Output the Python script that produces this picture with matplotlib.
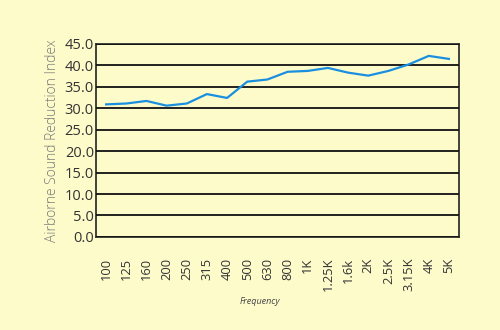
import matplotlib
matplotlib.use("Agg")
import matplotlib.pyplot as plt

categories = ["100", "125", "160", "200", "250", "315", "400", "500", "630", "800",
              "1K", "1.25K", "1.6k", "2K", "2.5K", "3.15K", "4K", "5K"]
values = [30.9, 31.1, 31.7, 30.6, 31.1, 33.3, 32.4, 36.2, 36.7, 38.5,
          38.7, 39.4, 38.3, 37.6, 38.7, 40.2, 42.2, 41.5]
y_ticks = [0, 5, 10, 15, 20, 25, 30, 35, 40, 45]

bg = "#FEFBCB"
fig = plt.figure(figsize=(5, 3.3), dpi=100, facecolor=bg)
ax = fig.add_axes([0.192, 0.282, 0.726, 0.585], facecolor=bg)

x = list(range(len(categories)))
ax.plot(x, values, color="#1A8FE0", lw=1.6, zorder=3)
ax.set_xlim(-0.5, len(categories) - 0.5)
ax.set_ylim(0, 45)
ax.set_yticks(y_ticks)
ax.set_yticklabels([f"{v:.1f}" for v in y_ticks], fontsize=10.5, color="#333333", family="Open Sans")
ax.set_xticks(x)
ax.set_xticklabels(categories, rotation=90, fontsize=9.3, color="#333333", family="Open Sans")
ax.tick_params(axis="both", length=0)
ax.tick_params(axis="y", pad=1.5)
ax.tick_params(axis="x", pad=15)
ax.yaxis.grid(True, color="#111111", lw=1.3)
ax.set_axisbelow(False)
for s in ax.spines.values():
    s.set_color("#333333")
    s.set_linewidth(1.3)

fig.text(0.105, 0.575, "Airborne Sound Reduction Index", rotation=90, ha="center", va="center",
         fontsize=10, color="#777777", family="Open Sans", fontweight="light")
fig.text(0.52, 0.085, "Frequency", ha="center", va="center", fontsize=6.5,
         style="italic", color="#444444", family="Open Sans")

fig.savefig("out.png", dpi=100, facecolor=bg)
